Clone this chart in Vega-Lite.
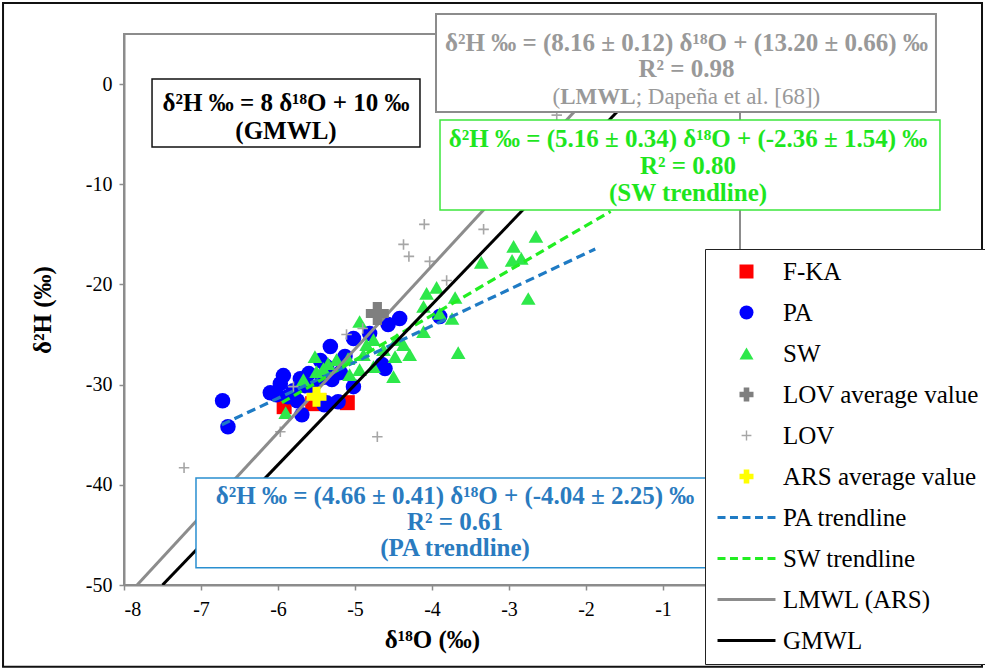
{
  "$schema": "https://vega.github.io/schema/vega-lite/v6.json",
  "width": 616,
  "height": 551,
  "autosize": "none",
  "padding": {"left": 124, "top": 34, "right": 245, "bottom": 85},
  "background": "white",
  "config": {
    "view": {"stroke": "#8c8c8c", "strokeWidth": 2},
    "font": "Liberation Serif",
    "axis": {
      "grid": false,
      "domainColor": "#8c8c8c",
      "domainWidth": 2,
      "tickColor": "#8c8c8c",
      "tickWidth": 1.5,
      "tickSize": 5,
      "labelFont": "Liberation Serif",
      "labelFontSize": 20,
      "labelColor": "black",
      "labelExpr": "'' + datum.value",
      "titleFont": "Liberation Serif",
      "titleFontSize": 25,
      "titleFontWeight": "bold",
      "titleColor": "black"
    }
  },
  "datasets": {
    "pts": [
      {"s": "F-KA", "x": -5.92, "y": -32.2},
      {"s": "F-KA", "x": -5.55, "y": -31.9},
      {"s": "F-KA", "x": -5.47, "y": -31.6},
      {"s": "F-KA", "x": -5.10, "y": -31.8},
      {"s": "PA", "x": -6.72, "y": -31.6},
      {"s": "PA", "x": -6.65, "y": -34.2},
      {"s": "PA", "x": -6.02, "y": -31.0},
      {"s": "PA", "x": -5.97, "y": -29.9},
      {"s": "PA", "x": -5.93, "y": -29.1},
      {"s": "PA", "x": -5.87, "y": -31.2},
      {"s": "PA", "x": -5.71, "y": -29.4},
      {"s": "PA", "x": -5.65, "y": -30.1},
      {"s": "PA", "x": -5.69, "y": -33.0},
      {"s": "PA", "x": -5.80, "y": -30.6},
      {"s": "PA", "x": -5.75, "y": -31.6},
      {"s": "PA", "x": -5.45, "y": -27.6},
      {"s": "PA", "x": -5.42, "y": -29.3},
      {"s": "PA", "x": -5.40, "y": -32.0},
      {"s": "PA", "x": -5.37, "y": -28.2},
      {"s": "PA", "x": -5.37, "y": -31.8},
      {"s": "PA", "x": -5.32, "y": -26.2},
      {"s": "PA", "x": -5.30, "y": -29.5},
      {"s": "PA", "x": -5.22, "y": -31.7},
      {"s": "PA", "x": -5.19, "y": -28.8},
      {"s": "PA", "x": -5.13, "y": -27.2},
      {"s": "PA", "x": -5.02, "y": -25.4},
      {"s": "PA", "x": -5.02, "y": -30.2},
      {"s": "PA", "x": -4.81, "y": -24.9},
      {"s": "PA", "x": -4.65, "y": -28.0},
      {"s": "PA", "x": -4.61, "y": -28.4},
      {"s": "PA", "x": -4.57, "y": -24.0},
      {"s": "PA", "x": -4.42, "y": -23.4},
      {"s": "PA", "x": -3.90, "y": -23.2},
      {"s": "PA", "x": -5.55, "y": -30.3},
      {"s": "PA", "x": -6.10, "y": -30.8},
      {"s": "PA", "x": -5.60, "y": -28.9},
      {"s": "SW", "x": -5.90, "y": -32.8},
      {"s": "SW", "x": -5.67, "y": -29.5},
      {"s": "SW", "x": -5.52, "y": -27.2},
      {"s": "SW", "x": -5.50, "y": -28.7},
      {"s": "SW", "x": -5.41, "y": -28.4},
      {"s": "SW", "x": -5.35, "y": -27.9},
      {"s": "SW", "x": -5.24, "y": -27.5},
      {"s": "SW", "x": -5.09, "y": -27.4},
      {"s": "SW", "x": -5.07, "y": -29.0},
      {"s": "SW", "x": -4.94, "y": -28.5},
      {"s": "SW", "x": -4.94, "y": -23.7},
      {"s": "SW", "x": -4.89, "y": -27.0},
      {"s": "SW", "x": -4.85, "y": -26.0},
      {"s": "SW", "x": -4.76, "y": -25.5},
      {"s": "SW", "x": -4.76, "y": -28.2},
      {"s": "SW", "x": -4.63, "y": -26.5},
      {"s": "SW", "x": -4.50, "y": -29.2},
      {"s": "SW", "x": -4.48, "y": -27.2},
      {"s": "SW", "x": -4.46, "y": -25.5},
      {"s": "SW", "x": -4.37, "y": -26.0},
      {"s": "SW", "x": -4.29, "y": -27.0},
      {"s": "SW", "x": -4.11, "y": -24.7},
      {"s": "SW", "x": -4.11, "y": -22.2},
      {"s": "SW", "x": -4.07, "y": -20.9},
      {"s": "SW", "x": -3.94, "y": -20.3},
      {"s": "SW", "x": -3.90, "y": -22.9},
      {"s": "SW", "x": -3.74, "y": -23.4},
      {"s": "SW", "x": -3.70, "y": -21.3},
      {"s": "SW", "x": -3.66, "y": -26.8},
      {"s": "SW", "x": -3.36, "y": -17.8},
      {"s": "SW", "x": -2.96, "y": -17.6},
      {"s": "SW", "x": -2.94, "y": -16.2},
      {"s": "SW", "x": -2.84, "y": -17.4},
      {"s": "SW", "x": -2.75, "y": -21.4},
      {"s": "SW", "x": -2.65, "y": -15.2},
      {"s": "LOV", "x": -5.11, "y": -25.0},
      {"s": "LOV", "x": -4.90, "y": -24.4},
      {"s": "LOV", "x": -5.80, "y": -30.2},
      {"s": "LOV", "x": -5.97, "y": -34.7},
      {"s": "LOV", "x": -4.10, "y": -14.0},
      {"s": "LOV", "x": -4.37, "y": -16.0},
      {"s": "LOV", "x": -4.30, "y": -17.2},
      {"s": "LOV", "x": -4.03, "y": -17.7},
      {"s": "LOV", "x": -3.33, "y": -14.5},
      {"s": "LOV", "x": -3.81, "y": -19.6},
      {"s": "LOV", "x": -2.38, "y": -3.1},
      {"s": "LOV", "x": -4.71, "y": -35.2},
      {"s": "LOV", "x": -7.22, "y": -38.3},
      {"s": "LOV average value", "x": -4.71, "y": -22.9},
      {"s": "ARS average value", "x": -5.50, "y": -31.2}
    ],
    "lines": [
      {"s": "PA trendline", "x": -6.73, "y": -34.0},
      {"s": "PA trendline", "x": -1.88, "y": -16.46},
      {"s": "SW trendline", "x": -5.95, "y": -31.8},
      {"s": "SW trendline", "x": -1.68, "y": -12.7},
      {"s": "LMWL (ARS)", "x": -7.83, "y": -50},
      {"s": "LMWL (ARS)", "x": -1.22, "y": 5},
      {"s": "GMWL", "x": -7.5, "y": -50},
      {"s": "GMWL", "x": -0.625, "y": 5}
    ]
  },
  "layer": [
    {
      "data": {"name": "pts"},
      "transform": [{"filter": "datum.s === 'F-KA'"}],
      "mark": {"type": "point", "shape": "square", "filled": true, "opacity": 1, "size": 225, "strokeWidth": 0},
      "encoding": {
        "x": {"field": "x", "type": "quantitative", "scale": {"domain": [-8, 0], "nice": false, "zero": false},
              "axis": {"values": [-8, -7, -6, -5, -4, -3, -2, -1], "title": "δ¹⁸O (‰)", "labelPadding": 9, "titlePadding": 8}},
        "y": {"field": "y", "type": "quantitative", "scale": {"domain": [-50, 5], "nice": false, "zero": false},
              "axis": {"values": [-50, -40, -30, -20, -10, 0], "title": "δ²H (‰)", "labelPadding": 7, "titlePadding": 30}},
        "color": {
          "field": "s", "type": "nominal",
          "scale": {
            "domain": ["F-KA", "PA", "SW", "LOV average value", "LOV", "ARS average value", "PA trendline", "SW trendline", "LMWL (ARS)", "GMWL"],
            "range": ["#ff0000", "#0000ff", "#2ee84a", "#7f7f7f", "#a6a6a6", "#ffff00", "#1f7bc4", "#22ee22", "#8c8c8c", "#000000"]
          },
          "legend": {
            "orient": "none",
            "legendX": 581,
            "legendY": 215,
            "title": null,
            "direction": "vertical",
            "padding": 10,
            "rowPadding": 15,
            "symbolOffset": 19,
            "labelOffset": 24,
            "symbolSize": 196,
            "symbolStrokeWidth": 0,
            "symbolOpacity": 1,
            "symbolType": {"expr": "datum.value === 'F-KA' ? 'square' : datum.value === 'PA' ? 'circle' : datum.value === 'SW' ? 'triangle-up' : datum.value === 'LOV' ? 'M-0.7,-0.1H0.7V0.1H-0.7Z M-0.1,-0.7H0.1V0.7H-0.1Z' : (datum.value === 'LOV average value' || datum.value === 'ARS average value') ? 'cross' : (datum.value === 'PA trendline' || datum.value === 'SW trendline') ? 'M-4.14,-0.2H-3V0.2H-4.14Z M-2.36,-0.2H-1.22V0.2H-2.36Z M-0.57,-0.2H0.57V0.2H-0.57Z M1.22,-0.2H2.36V0.2H1.22Z M3,-0.2H4.14V0.2H3Z' : 'M-4.14,-0.2H4.14V0.2H-4.14Z'"},
            "labelFont": "Liberation Serif",
            "labelFontSize": 25,
            "labelColor": "black",
            "labelLimit": 400,
            "strokeColor": "#222222",
            "fillColor": "white",
            "encode": {
              "symbols": {
                "update": {
                  "fill": {"scale": "color", "field": "value"},
                  "stroke": {"value": "transparent"},
                  "strokeWidth": {"value": 0},
                  "opacity": {"value": 1}
                }
              }
            }
          }
        }
      }
    },
    {
      "data": {"name": "pts"},
      "transform": [{"filter": "datum.s === 'PA'"}],
      "mark": {"type": "point", "shape": "circle", "filled": true, "opacity": 1, "size": 240, "strokeWidth": 0},
      "encoding": {
        "x": {"field": "x", "type": "quantitative"},
        "y": {"field": "y", "type": "quantitative"},
        "color": {"field": "s", "type": "nominal"}
      }
    },
    {
      "data": {"name": "pts"},
      "transform": [{"filter": "datum.s === 'SW'"}],
      "mark": {"type": "point", "shape": "triangle-up", "filled": true, "opacity": 1, "size": 215, "strokeWidth": 0},
      "encoding": {
        "x": {"field": "x", "type": "quantitative"},
        "y": {"field": "y", "type": "quantitative"},
        "color": {"field": "s", "type": "nominal"}
      }
    },
    {
      "data": {"name": "pts"},
      "transform": [{"filter": "datum.s === 'LOV'"}],
      "mark": {"type": "point", "shape": "M-1,0H1M0,-1V1", "filled": false, "opacity": 1, "size": 110, "strokeWidth": 1.6},
      "encoding": {
        "x": {"field": "x", "type": "quantitative"},
        "y": {"field": "y", "type": "quantitative"},
        "color": {"field": "s", "type": "nominal"}
      }
    },
    {
      "data": {"name": "lines"},
      "transform": [{"filter": "datum.s === 'PA trendline' || datum.s === 'SW trendline'"}],
      "mark": {"type": "line", "strokeWidth": 3.2, "strokeDash": [9, 5], "clip": true},
      "encoding": {
        "x": {"field": "x", "type": "quantitative"},
        "y": {"field": "y", "type": "quantitative"},
        "color": {"field": "s", "type": "nominal"}
      }
    },
    {
      "data": {"name": "lines"},
      "transform": [{"filter": "datum.s === 'LMWL (ARS)' || datum.s === 'GMWL'"}],
      "mark": {"type": "line", "strokeWidth": 3, "clip": true},
      "encoding": {
        "x": {"field": "x", "type": "quantitative"},
        "y": {"field": "y", "type": "quantitative"},
        "color": {"field": "s", "type": "nominal"}
      }
    },
    {
      "data": {"name": "pts"},
      "transform": [{"filter": "datum.s === 'LOV average value'"}],
      "mark": {"type": "point", "shape": "cross", "filled": true, "opacity": 1, "size": 529, "strokeWidth": 0},
      "encoding": {
        "x": {"field": "x", "type": "quantitative"},
        "y": {"field": "y", "type": "quantitative"},
        "color": {"field": "s", "type": "nominal"}
      }
    },
    {
      "data": {"name": "pts"},
      "transform": [{"filter": "datum.s === 'ARS average value'"}],
      "mark": {"type": "point", "shape": "cross", "filled": true, "opacity": 1, "size": 400, "strokeWidth": 0},
      "encoding": {
        "x": {"field": "x", "type": "quantitative"},
        "y": {"field": "y", "type": "quantitative"},
        "color": {"field": "s", "type": "nominal"}
      }
    },
    {
      "data": {"values": [{"box": "GMWL"}]},
      "mark": {"type": "rect", "fill": "white", "stroke": "#111111", "strokeWidth": 1.5},
      "encoding": {"x": {"datum": -7.636}, "x2": {"datum": -4.156}, "y": {"datum": 0.509}, "y2": {"datum": -6.277}}
    },
    {
      "data": {"values": [{"box": "LMWL"}]},
      "mark": {"type": "rect", "fill": "white", "stroke": "#8c8c8c", "strokeWidth": 2},
      "encoding": {"x": {"datum": -3.948}, "x2": {"datum": 2.545}, "y": {"datum": 6.996}, "y2": {"datum": -2.784}}
    },
    {
      "data": {"values": [{"box": "SW"}]},
      "mark": {"type": "rect", "fill": "white", "stroke": "#3de63d", "strokeWidth": 1.5},
      "encoding": {"x": {"datum": -3.896}, "x2": {"datum": 2.597}, "y": {"datum": -3.583}, "y2": {"datum": -12.565}}
    },
    {
      "data": {"values": [{"box": "PA"}]},
      "mark": {"type": "rect", "fill": "white", "stroke": "#2a8fd0", "strokeWidth": 1.5},
      "encoding": {"x": {"datum": -7.065}, "x2": {"datum": -0.364}, "y": {"datum": -39.31}, "y2": {"datum": -48.29}}
    },
    {
      "data": {"values": [{"t": ["δ²H ‰  = 8 δ¹⁸O + 10 ‰", "(GMWL)"]}]},
      "mark": {"type": "text", "font": "Liberation Serif", "fontSize": 25, "fontWeight": "bold", "color": "black", "align": "center", "baseline": "middle", "lineHeight": 28},
      "encoding": {"x": {"datum": -5.896}, "y": {"datum": -1.886}, "text": {"field": "t"}}
    },
    {
      "data": {"values": [{"t": ["δ²H ‰ = (8.16 ± 0.12) δ¹⁸O + (13.20 ± 0.66) ‰", "R² = 0.98"]}]},
      "mark": {"type": "text", "font": "Liberation Serif", "fontSize": 25, "fontWeight": "bold", "color": "#999999", "align": "center", "baseline": "middle", "lineHeight": 26},
      "encoding": {"x": {"datum": -0.695}, "y": {"datum": 4.10}, "text": {"field": "t"}}
    },
    {
      "data": {"values": [{"t": "("}]},
      "mark": {"type": "text", "font": "Liberation Serif", "fontSize": 23, "color": "#999999", "align": "right", "baseline": "middle"},
      "encoding": {"x": {"datum": -2.334}, "y": {"datum": -1.29}, "text": {"field": "t"}}
    },
    {
      "data": {"values": [{"t": "LMWL"}]},
      "mark": {"type": "text", "font": "Liberation Serif", "fontSize": 23, "fontWeight": "bold", "color": "#999999", "align": "right", "baseline": "middle"},
      "encoding": {"x": {"datum": -1.355}, "y": {"datum": -1.29}, "text": {"field": "t"}}
    },
    {
      "data": {"values": [{"t": "; Dapeña et al. [68])"}]},
      "mark": {"type": "text", "font": "Liberation Serif", "fontSize": 23, "color": "#999999", "align": "left", "baseline": "middle"},
      "encoding": {"x": {"datum": -1.355}, "y": {"datum": -1.29}, "text": {"field": "t"}}
    },
    {
      "data": {"values": [{"t": ["δ²H ‰ = (5.16 ± 0.34) δ¹⁸O + (-2.36 ± 1.54) ‰", "R² = 0.80", "(SW trendline)"]}]},
      "mark": {"type": "text", "font": "Liberation Serif", "fontSize": 25, "fontWeight": "bold", "color": "#1ee61e", "align": "center", "baseline": "middle", "lineHeight": 27},
      "encoding": {"x": {"datum": -0.675}, "y": {"datum": -5.479}, "text": {"field": "t"}}
    },
    {
      "data": {"values": [{"t": ["δ²H ‰ = (4.66 ± 0.41) δ¹⁸O + (-4.04 ± 2.25) ‰", "R² = 0.61", "(PA trendline)"]}]},
      "mark": {"type": "text", "font": "Liberation Serif", "fontSize": 25, "fontWeight": "bold", "color": "#2a7bbf", "align": "center", "baseline": "middle", "lineHeight": 26},
      "encoding": {"x": {"datum": -3.701}, "y": {"datum": -41.108}, "text": {"field": "t"}}
    },
    {
      "data": {"values": [{"frame": "outer"}]},
      "mark": {"type": "rect", "fill": "transparent", "stroke": "#111111", "strokeWidth": 2},
      "encoding": {"x": {"datum": -9.571}, "x2": {"datum": 3.143}, "y": {"datum": 8.094}, "y2": {"datum": -58.17}}
    }
  ]
}
